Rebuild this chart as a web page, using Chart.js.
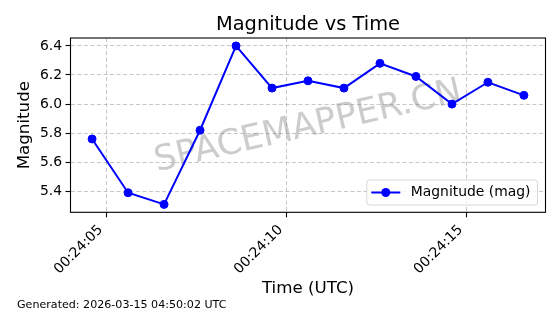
<!DOCTYPE html>
<html>
<head>
<meta charset="utf-8">
<script src="https://cdn.jsdelivr.net/npm/chart.js@4.4.1/dist/chart.umd.min.js"></script>
<style>
  html, body { margin: 0; padding: 0; background: #fff; }
  #wrap { width: 560px; height: 314px; }
</style>
</head>
<body>
<div id="wrap"><canvas id="magChart" width="560" height="314"></canvas></div>
<script>
const times = [
  "00:24:04.6", "00:24:05.6", "00:24:06.6", "00:24:07.6", "00:24:08.6",
  "00:24:09.6", "00:24:10.6", "00:24:11.6", "00:24:12.6", "00:24:13.6",
  "00:24:14.6", "00:24:15.6", "00:24:16.6"
];
const magnitudes = [5.76, 5.39, 5.31, 5.82, 6.40, 6.11, 6.16, 6.11, 6.28, 6.19, 6.00, 6.15, 6.06];
const xTickLabels = ["00:24:05", "00:24:10", "00:24:15"];
const yTicks = [5.4, 5.6, 5.8, 6.0, 6.2, 6.4];

const chartTitle = "Magnitude vs Time";
const seriesLabel = "Magnitude (mag)";
const watermark = "SPACEMAPPER.CN";
const footer = "Generated: 2026-03-15 04:50:02 UTC";

const FONT = "'DejaVu Sans', sans-serif";

function toSeconds(t) {
  const p = t.split(":");
  return (+p[0]) * 3600 + (+p[1]) * 60 + (+p[2]);
}

function toClock(sec) {
  const s = Math.round(sec);
  const pad = n => String(n).padStart(2, "0");
  return pad(Math.floor(s / 3600)) + ":" + pad(Math.floor(s / 60) % 60) + ":" + pad(s % 60);
}

// matplotlib style 5% margins
const xs = times.map(toSeconds);
const xMin = Math.min(...xs), xMax = Math.max(...xs);
const yMin = Math.min(...magnitudes), yMax = Math.max(...magnitudes);
const xPad = (xMax - xMin) * 0.05;
const yPad = (yMax - yMin) * 0.05;

const gridColor = "rgba(160,160,160,0.6)";

const decor = {
  id: "decor",
  beforeDatasetsDraw(chart) {
    const { ctx, chartArea: a } = chart;
    ctx.save();
    ctx.translate((a.left + a.right) / 2, (a.top + a.bottom) / 2 + 2);
    ctx.rotate(-13 * Math.PI / 180);
    ctx.font = "35px " + FONT;
    ctx.fillStyle = "rgba(128,128,128,0.4)";
    ctx.textAlign = "center";
    ctx.textBaseline = "middle";
    ctx.fillText(watermark, 0, 0);
    ctx.restore();
  },
  afterDraw(chart) {
    const { ctx, chartArea: a } = chart;
    ctx.save();
    // frame
    ctx.strokeStyle = "#000";
    ctx.lineWidth = 1.1;
    ctx.strokeRect(a.left, a.top, a.right - a.left, a.bottom - a.top);

    // title, centred over the axes
    ctx.font = "19.4px " + FONT;
    ctx.fillStyle = "#000";
    ctx.textAlign = "center";
    ctx.textBaseline = "alphabetic";
    ctx.fillText(chartTitle, (a.left + a.right) / 2, 30);
    ctx.textAlign = "left";

    // legend
    ctx.font = "13.9px " + FONT;
    const tw = ctx.measureText(seriesLabel).width;
    const w = tw + 51, h = 25;
    const bx = a.right - 8 - w, by = a.bottom - 7.3 - h;
    ctx.beginPath();
    ctx.roundRect(bx, by, w, h, 3);
    ctx.fillStyle = "rgba(255,255,255,0.8)";
    ctx.fill();
    ctx.strokeStyle = "#d6d6d6";
    ctx.lineWidth = 1;
    ctx.stroke();
    const cy = by + h / 2;
    ctx.strokeStyle = "#0000ff";
    ctx.lineWidth = 2;
    ctx.beginPath();
    ctx.moveTo(bx + 4.5, cy);
    ctx.lineTo(bx + 33.5, cy);
    ctx.stroke();
    ctx.fillStyle = "#0000ff";
    ctx.beginPath();
    ctx.arc(bx + 19, cy, 4.5, 0, Math.PI * 2);
    ctx.fill();
    ctx.fillStyle = "#000";
    ctx.textBaseline = "middle";
    ctx.fillText(seriesLabel, bx + 44, cy);

    // footer
    ctx.font = "11.1px " + FONT;
    ctx.textBaseline = "alphabetic";
    ctx.fillText(footer, 17, 308);
    ctx.restore();
  }
};

new Chart(document.getElementById("magChart"), {
  type: "line",
  data: {
    datasets: [{
      label: seriesLabel,
      data: times.map((t, i) => ({ x: toSeconds(t), y: magnitudes[i] })),
      borderColor: "#0000ff",
      backgroundColor: "#0000ff",
      borderWidth: 2,
      pointRadius: 4,
      pointBorderWidth: 1,
      pointBorderColor: "#0000ff",
      pointBackgroundColor: "#0000ff",
      tension: 0,
      fill: false
    }]
  },
  options: {
    responsive: false,
    animation: false,
    devicePixelRatio: 1,
    layout: { padding: { left: 0, right: 14.5, top: 38, bottom: 0 } },
    plugins: {
      legend: { display: false },
      tooltip: { enabled: false },
      title: { display: false }
    },
    scales: {
      x: {
        type: "linear",
        min: xMin - xPad,
        max: xMax + xPad,
        afterBuildTicks: s => { s.ticks = xTickLabels.map(t => ({ value: toSeconds(t) })); },
        afterFit: s => { s.height = 101.7; },
        ticks: {
          autoSkip: false,
          minRotation: 45,
          maxRotation: 45,
          padding: 4.5,
          labelOffset: -5.7,
          color: "#000",
          font: { family: FONT, size: 13.9 },
          callback: v => toClock(v)
        },
        grid: {
          color: gridColor,
          lineWidth: 1,
          tickLength: 5,
          tickColor: "#000",
          tickWidth: 1.1,
          tickBorderDash: []
        },
        border: { display: false, dash: [4, 2.5] },
        title: {
          display: true,
          text: "Time (UTC)",
          color: "#000",
          font: { family: FONT, size: 16.7 },
          padding: { top: 0, bottom: 15 }
        }
      },
      y: {
        min: yMin - yPad,
        max: yMax + yPad,
        afterBuildTicks: s => { s.ticks = yTicks.map(v => ({ value: v })); },
        afterFit: s => { s.width = 70.5; },
        ticks: {
          padding: 3.5,
          color: "#000",
          font: { family: FONT, size: 13.9 },
          callback: v => v.toFixed(1)
        },
        grid: {
          color: gridColor,
          lineWidth: 1,
          tickLength: 5,
          tickColor: "#000",
          tickWidth: 1.1,
          tickBorderDash: []
        },
        border: { display: false, dash: [4, 2.5] },
        title: {
          display: true,
          text: "Magnitude",
          color: "#000",
          font: { family: FONT, size: 16.7 },
          padding: { top: 14.5, bottom: 0 }
        }
      }
    }
  },
  plugins: [decor]
});
</script>
</body>
</html>
